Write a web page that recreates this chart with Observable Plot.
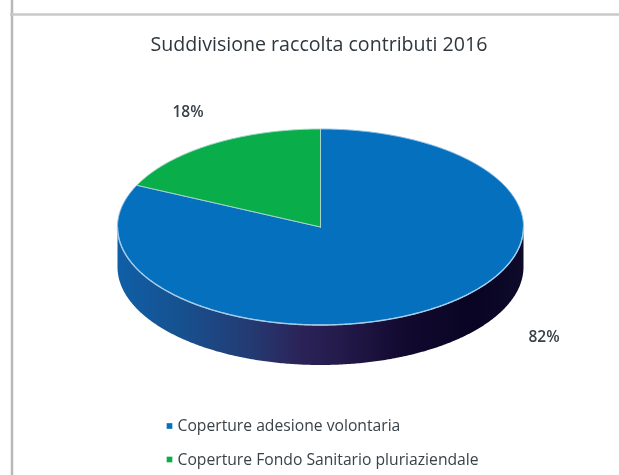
<!DOCTYPE html>
<html><head><meta charset="utf-8">
<style>html,body{margin:0;padding:0;background:#fff}svg{display:block}</style>
<script src="https://cdn.jsdelivr.net/npm/d3@7"></script>
<script src="https://cdn.jsdelivr.net/npm/@observablehq/plot@0.6"></script>
</head><body>
<div id="chart"></div>
<script>
const categories = ["Coperture adesione volontaria", "Coperture Fondo Sanitario pluriaziendale"];
const shares = [82, 18];
const labels = ["82%", "18%"];
const colors = ["#0570bd", "#09ae4a"];
const title = "Suddivisione raccolta contributi 2016";

const W = 619, H = 475, CX = 320, CY = 226.5, RX = 203, RY = 98;
const DEPTH = 40 / RY;
const total = d3.sum(shares);
const TAU = Math.PI * 2;

// angle 0 = 12 o'clock, clockwise; x, y in pie radii
const pt = (a, dy = 0) => ({x: Math.sin(a), y: Math.cos(a) - dy});
function arc(a0, a1, dy = 0) {
  const n = Math.max(2, Math.ceil(Math.abs(a1 - a0) / 0.01));
  return d3.range(n + 1).map(i => pt(a0 + (a1 - a0) * i / n, dy));
}
const a82 = TAU * shares[0] / total;
const blueSlice = [{x: 0, y: 0}, ...arc(0, a82), {x: 0, y: 0}];
const greenSlice = [{x: 0, y: 0}, ...arc(a82, TAU), {x: 0, y: 0}];
const wall = [...arc(Math.PI / 2, Math.PI * 1.5), ...arc(Math.PI * 1.5, Math.PI / 2, DEPTH)];
const rim = arc(Math.PI / 2, Math.PI * 1.5);

const stops = [[0,"#0f5fa6"],[0.16,"#17508f"],[0.33,"#243a72"],[0.45,"#2b2358"],[0.55,"#241a4b"],[0.7,"#120a30"],[0.88,"#090423"],[1,"#0e0a2a"]];
const defs = () => {
  const d = d3.create("svg:defs");
  const g = d.append("linearGradient").attr("id", "wallGrad");
  stops.forEach(([o, c]) => g.append("stop").attr("offset", o).attr("stop-color", c));
  return d.node();
};

const txt = {fontFamily: "Open Sans", fill: "#3a4248", frameAnchor: "top-left", lineAnchor: "middle", textAnchor: "start"};
const legendY = [425.5, 459];

const plot = Plot.plot({
  width: W, height: H,
  marginTop: 0, marginRight: 0, marginBottom: 0, marginLeft: 0,
  x: {domain: [-CX / RX, (W - CX) / RX], axis: null},
  y: {domain: [(CY - H) / RY, CY / RY], axis: null},
  marks: [
    defs,
    Plot.ruleX([0], {x: () => -CX / RX, dx: 11.5, stroke: "#b8b8b8", strokeWidth: 2.5}),
    Plot.ruleY([0], {y: () => CY / RY, dy: 14, stroke: "#c8c8c8", strokeWidth: 2.5, x1: -CX / RX + 10 / RX, x2: (W - CX) / RX}),
    Plot.line(wall, {x: "x", y: "y", fill: "url(#wallGrad)", stroke: "none"}),
    Plot.line(blueSlice, {x: "x", y: "y", fill: colors[0], stroke: "#8fc0e4", strokeWidth: 1}),
    Plot.line(greenSlice, {x: "x", y: "y", fill: colors[1], stroke: "#a5d6c8", strokeWidth: 1}),
    Plot.line(rim, {x: "x", y: "y", stroke: "#a4cdea", strokeWidth: 1.4}),
    Plot.text([title], {...txt, fontSize: 19.6, fill: "#2f373d", text: d => d, dx: 150, dy: 44.5}),
    Plot.text([labels[1]], {...txt, fontSize: 15.5, fontWeight: 600, text: d => d, dx: 172, dy: 112}),
    Plot.text([labels[0]], {...txt, fontSize: 15.5, fontWeight: 600, text: d => d, dx: 528, dy: 337}),
    ...categories.flatMap((c, i) => [
      Plot.text([c], {...txt, fontSize: 15.7, text: d => d, dx: 177, dy: legendY[i]}),
      Plot.dot([c], {frameAnchor: "top-left", dx: 169, dy: legendY[i], symbol: "square", r: 3.2, fill: colors[i], stroke: "none"})
    ])
  ]
});
plot.style.filter = "blur(0.5px)";
document.getElementById("chart").append(plot);
</script>
</body></html>
